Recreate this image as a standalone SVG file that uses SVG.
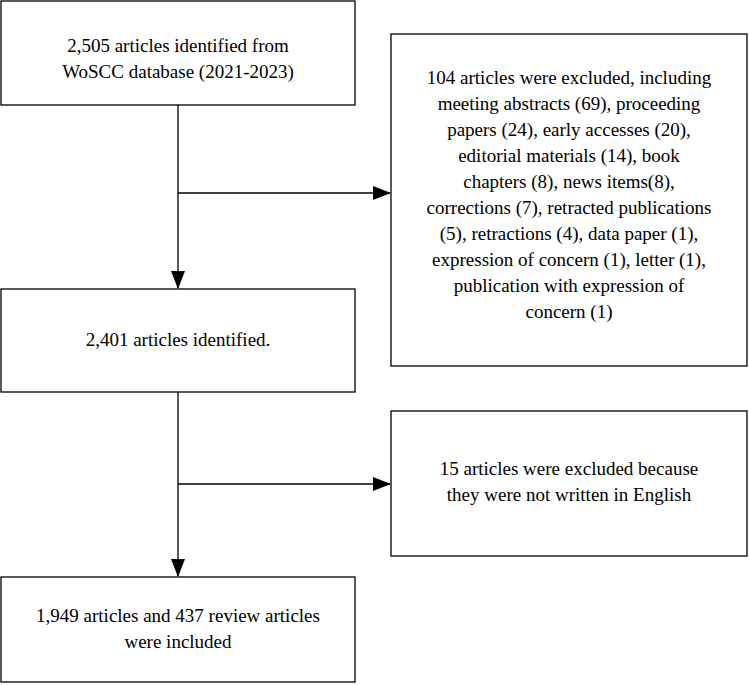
<svg xmlns="http://www.w3.org/2000/svg" width="749" height="685" viewBox="0 0 749 685">
<defs>
<style>
.b{fill:#fff;stroke:#000;stroke-width:1.3}
.t{font-family:"Liberation Serif",serif;font-size:19px;fill:#000;text-anchor:middle}
.c{stroke:#000;stroke-width:1.3;fill:none}
</style>
<marker id="a" markerWidth="18" markerHeight="14" refX="17" refY="7" orient="auto" markerUnits="userSpaceOnUse"><path d="M0,0 L18,7 L0,14 z" fill="#000"/></marker>
</defs>
<rect width="749" height="685" fill="#fff"/>
<g id="n1"><rect class="b" x="1" y="1" width="354" height="104"/><text class="t" x="178" y="52">2,505 articles identified from</text><text class="t" x="178" y="78">WoSCC database (2021-2023)</text></g>
<g id="n2"><rect class="b" x="1" y="289" width="354" height="103"/><text class="t" x="178" y="346">2,401 articles identified.</text></g>
<g id="n3"><rect class="b" x="1" y="577" width="354" height="105"/><text class="t" x="178" y="622">1,949 articles and 437 review articles</text><text class="t" x="178" y="648">were included</text></g>
<g id="n4"><rect class="b" x="391" y="34" width="356" height="332"/>
<text class="t" x="569" y="84">104 articles were excluded, including</text>
<text class="t" x="569" y="110">meeting abstracts (69), proceeding</text>
<text class="t" x="569" y="136">papers (24), early accesses (20),</text>
<text class="t" x="569" y="162">editorial materials (14), book</text>
<text class="t" x="569" y="188">chapters (8), news items(8),</text>
<text class="t" x="569" y="214">corrections (7), retracted publications</text>
<text class="t" x="569" y="240">(5), retractions (4), data paper (1),</text>
<text class="t" x="569" y="266">expression of concern (1), letter (1),</text>
<text class="t" x="569" y="292">publication with expression of</text>
<text class="t" x="569" y="318">concern (1)</text></g>
<g id="n5"><rect class="b" x="391" y="411" width="356" height="145"/><text class="t" x="569" y="475">15 articles were excluded because</text><text class="t" x="569" y="501">they were not written in English</text></g>
<g id="connectors">
<line class="c" x1="178" y1="105" x2="178" y2="288" marker-end="url(#a)"/>
<line class="c" x1="178" y1="193" x2="390" y2="193" marker-end="url(#a)"/>
<line class="c" x1="178" y1="392" x2="178" y2="576" marker-end="url(#a)"/>
<line class="c" x1="178" y1="484" x2="390" y2="484" marker-end="url(#a)"/>
</g>
</svg>
